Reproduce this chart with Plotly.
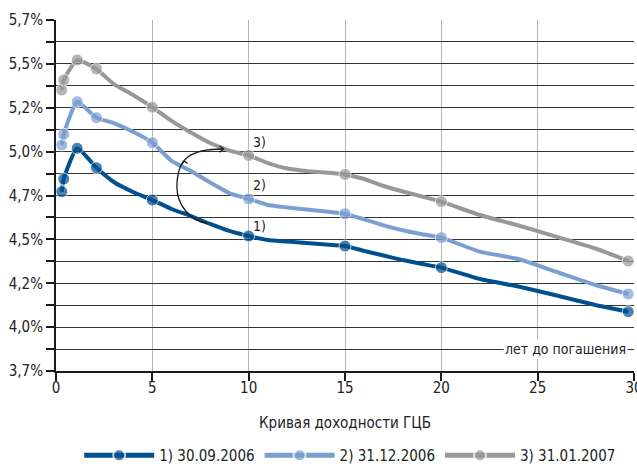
import plotly.graph_objects as go

# Yield curves of government securities (years to maturity vs. yield, %)
maturities = [0.3, 0.4, 1.1, 2.1, 3, 4, 5, 6, 7, 8, 9, 10, 11, 12, 13, 14, 15,
              16, 17, 18, 19, 20, 22, 24, 26, 28, 29.7]
marked_maturities = [0.3, 0.4, 1.1, 2.1, 5, 10, 15, 20, 29.7]

yields_2006_09_30 = [4.722, 4.794, 4.969, 4.858, 4.777, 4.720, 4.674, 4.623, 4.583,
                     4.538, 4.498, 4.469, 4.446, 4.438, 4.429, 4.421, 4.412, 4.384,
                     4.358, 4.332, 4.310, 4.289, 4.224, 4.181, 4.130, 4.076, 4.038]
yields_2006_12_31 = [4.988, 5.049, 5.234, 5.143, 5.113, 5.063, 5.001, 4.897, 4.840,
                     4.774, 4.714, 4.680, 4.646, 4.632, 4.620, 4.609, 4.596, 4.564,
                     4.530, 4.502, 4.479, 4.460, 4.380, 4.338, 4.264, 4.190, 4.139]
yields_2007_01_31 = [5.301, 5.358, 5.472, 5.421, 5.335, 5.273, 5.203, 5.125, 5.059,
                     4.999, 4.956, 4.928, 4.885, 4.854, 4.840, 4.831, 4.820, 4.794,
                     4.754, 4.723, 4.694, 4.665, 4.589, 4.529, 4.464, 4.398, 4.327]

series_names = ["1) 30.09.2006", "2) 31.12.2006", "3) 31.01.2007"]
series_colors = ["#00508f", "#7b9fd1", "#989898"]
series_tags = ["1)", "2)", "3)"]
tag_x = 10.1
tag_y = [4.526, 4.760, 5.005]

y_tick_values = [3.7, 3.825, 3.95, 4.075, 4.2, 4.325, 4.45, 4.575, 4.7,
                 4.825, 4.95, 5.075, 5.2, 5.325, 5.45, 5.575, 5.7]
y_tick_labels = ["3,7%", "", "4,0%", "", "4,2%", "", "4,5%", "", "4,7%",
                 "", "5,0%", "", "5,2%", "", "5,5%", "", "5,7%"]
x_tick_values = [0, 5, 10, 15, 20, 25, 30]

FONT = "Liberation Sans Narrow, DejaVu Sans Condensed, Arial Narrow, sans-serif"
TEXT = "#222222"

marker_sizes = [12 if m in marked_maturities else 0 for m in maturities]

fig = go.Figure()
for name, color, ys in zip(series_names, series_colors,
                           [yields_2006_09_30, yields_2006_12_31, yields_2007_01_31]):
    fig.add_trace(go.Scatter(
        x=maturities, y=ys, name=name, mode="lines+markers",
        line=dict(color=color, width=4, shape="spline", smoothing=0.5),
        marker=dict(color=color, size=marker_sizes),
        hoverinfo="skip",
    ))

# curve tags next to the 10-year points
for tag, ty in zip(series_tags, tag_y):
    fig.add_annotation(x=tag_x, y=ty, text=tag, showarrow=False, xanchor="left",
                       yanchor="middle", font=dict(family=FONT, size=14, color=TEXT))

# curved arrow from the first curve up to the third one
arc = ("M 7.835 4.542 C 6.967 4.555 6.276 4.646 6.276 4.748 "
       "C 6.276 4.914 6.967 4.965 8.699 4.965")
fig.add_shape(type="path", path=arc, xref="x", yref="y",
              line=dict(color="#1a1a1a", width=1.3))
fig.add_shape(type="path", path="M 8.48 4.984 L 8.699 4.965 L 8.48 4.946",
              xref="x", yref="y", line=dict(color="#1a1a1a", width=1.3))
fig.add_shape(type="path", path="M 6.50 4.873 L 6.655 4.897 L 6.825 4.882",
              xref="x", yref="y", line=dict(color="#1a1a1a", width=1.3))

fig.add_annotation(x=26.45, y=3.825, text="лет до погашения", showarrow=False,
                   xanchor="center", yanchor="middle", bgcolor="white", borderpad=1,
                   font=dict(family=FONT, size=14, color=TEXT))

fig.add_annotation(x=0.5, y=-0.148, xref="paper", yref="paper",
                   text="Кривая доходности ГЦБ", showarrow=False,
                   xanchor="center", yanchor="middle",
                   font=dict(family=FONT, size=15, color=TEXT))

fig.update_layout(
    width=637, height=464,
    margin=dict(l=56, r=3, t=20, b=93, autoexpand=False),
    paper_bgcolor="white", plot_bgcolor="white",
    font=dict(family=FONT, size=15, color=TEXT),
    showlegend=True,
    legend=dict(orientation="h", x=0.509, xanchor="center", y=-0.194, yanchor="top",
                itemwidth=70, itemsizing="constant",
                font=dict(family=FONT, size=15, color=TEXT)),
    xaxis=dict(range=[0, 30], tickvals=x_tick_values, ticks="outside", ticklen=8,
               tickcolor="#1a1a1a", tickwidth=1.5, showgrid=True,
               ticklabeloverflow="allow", ticklabelstandoff=-6,
               gridcolor="#b4b4b4", gridwidth=1, showline=True, linecolor="#1a1a1a",
               linewidth=2, zeroline=False, fixedrange=True),
    yaxis=dict(range=[3.7, 5.7], tickvals=y_tick_values, ticktext=y_tick_labels,
               ticks="outside", ticklen=8, tickcolor="#1a1a1a", tickwidth=1.5,
               showgrid=True, gridcolor="#333333", gridwidth=1, showline=True,
               linecolor="#1a1a1a", linewidth=2, zeroline=False, fixedrange=True),
)

fig.write_html("out.html")
